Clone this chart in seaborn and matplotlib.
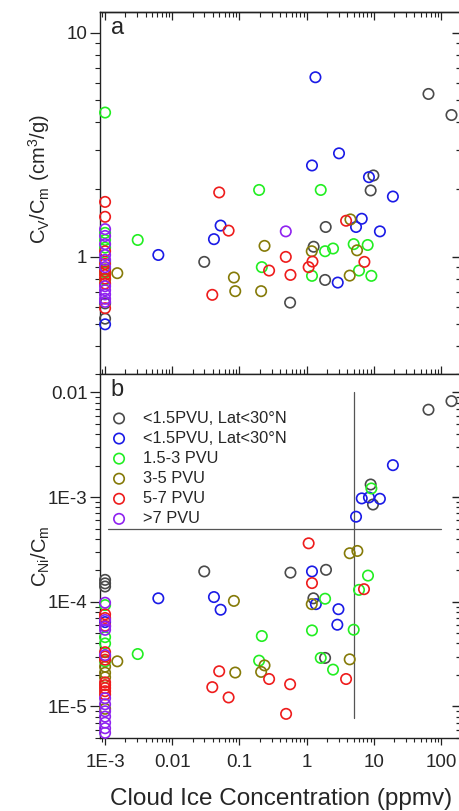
import numpy as np
import matplotlib
matplotlib.use("Agg")
import matplotlib.pyplot as plt
from matplotlib.ticker import LogLocator, NullFormatter, FuncFormatter
import seaborn as sns

sns.set_style("ticks")
plt.rcParams['font.family'] = ['Liberation Sans', 'DejaVu Sans']
plt.rcParams['mathtext.default'] = 'regular'

# ---- data ----
groups = ['<1.5PVU, Lat<30°N', '<1.5PVU, Lat<30°N ', '1.5-3 PVU', '3-5 PVU', '5-7 PVU', '>7 PVU']
colors = ['#4a4a4a', '#1a1ae6', '#22ee22', '#857a08', '#ee1c1c', '#8f22f0']
floor_x = 1e-3  # samples with no ice are put at 1E-3 ppmv

# panel a: Cv/Cm
a_grey_x = [0.0299, 0.567, 1.27, 1.88, 1.92, 8.96, 9.84, 65, 143]
a_grey_y = [0.95, 0.625, 1.11, 0.789, 1.36, 1.98, 2.31, 5.34, 4.3]
a_grey_col = [0.62, 0.53]
a_blue_x = [0.0062, 0.0417, 0.0524, 1.20, 1.35, 2.90, 3.03, 5.43, 6.60, 8.45, 12.3, 19.2]
a_blue_y = [1.02, 1.20, 1.38, 2.56, 6.34, 0.768, 2.90, 1.36, 1.48, 2.27, 1.30, 1.86]
a_blue_col = [0.50]
a_green_x = [0.00306, 0.196, 0.215, 1.20, 1.62, 1.88, 2.47, 5.01, 6.01, 8.09, 9.18]
a_green_y = [1.19, 1.99, 0.90, 0.823, 1.99, 1.06, 1.09, 1.14, 0.869, 1.13, 0.823]
a_green_col = [4.41, 1.28, 1.19, 1.10, 0.95, 0.85, 0.79]
a_olive_x = [0.00152, 0.0826, 0.0865, 0.210, 0.236, 1.19, 4.37, 4.48, 5.62]
a_olive_y = [0.846, 0.809, 0.703, 0.703, 1.12, 1.06, 0.825, 1.47, 1.07]
a_olive_col = [0.88]
a_red_x = [0.0394, 0.0499, 0.0689, 0.276, 0.489, 0.574, 1.07, 1.22, 3.86, 7.23]
a_red_y = [0.677, 1.94, 1.31, 0.869, 1.0, 0.831, 0.90, 0.953, 1.45, 0.95]
a_red_col = [1.76, 1.51, 1.06, 0.93, 0.86, 0.83, 0.80, 0.76, 0.59]
a_purple_x = [0.489]
a_purple_y = [1.30]
a_purple_col = [1.33, 1.24, 1.14, 1.02, 0.97, 0.90, 0.74, 0.71, 0.68, 0.65, 0.63]

# panel b: CNi/Cm
b_grey_x = [0.0299, 0.574, 1.26, 1.94, 1.88, 8.96, 9.7, 65, 143]
b_grey_y = [1.95e-4, 1.9e-4, 1.08e-4, 2.02e-4, 2.91e-5, 1.32e-3, 8.5e-4, 6.84e-3, 8.26e-3]
b_grey_col = [1.62e-4, 1.50e-4, 1.40e-4]
b_blue_x = [0.0062, 0.0417, 0.0524, 1.20, 1.37, 2.97, 2.86, 5.43, 6.60, 8.45, 12.3, 19.2]
b_blue_y = [1.08e-4, 1.11e-4, 8.4e-5, 1.95e-4, 9.5e-5, 8.5e-5, 6.04e-5, 6.5e-4, 9.72e-4, 9.93e-4, 9.64e-4, 2.02e-3]
b_blue_col = [6.4e-5]
b_green_x = [0.00306, 0.196, 0.215, 1.20, 1.62, 1.88, 2.47, 5.01, 6.01, 8.18, 9.18]
b_green_y = [3.17e-5, 2.74e-5, 4.71e-5, 5.33e-5, 2.91e-5, 1.07e-4, 2.25e-5, 5.41e-5, 1.30e-4, 1.78e-4, 1.21e-3]
b_green_col = [9.3e-5, 4.6e-5, 4.0e-5, 2.7e-5]
b_olive_x = [0.00152, 0.0826, 0.0865, 0.210, 0.236, 1.19, 4.37, 4.37, 5.68]
b_olive_y = [2.70e-5, 1.02e-4, 2.11e-5, 2.14e-5, 2.47e-5, 9.5e-5, 2.82e-5, 2.91e-4, 3.06e-4]
b_olive_col = [2.4e-5, 2.1e-5, 1.9e-5, 9.5e-6]
b_red_x = [0.0394, 0.0499, 0.0689, 0.276, 0.494, 0.567, 1.07, 1.20, 3.86, 7.13]
b_red_y = [1.53e-5, 2.17e-5, 1.22e-5, 1.83e-5, 8.5e-6, 1.63e-5, 3.62e-4, 1.51e-4, 1.83e-5, 1.32e-4]
b_red_col = [7.6e-5, 7.0e-5, 5.9e-5, 3.3e-5, 3.0e-5, 2.8e-5, 1.7e-5, 1.6e-5, 1.5e-5, 1.4e-5, 1.3e-5]
b_purple_x = []
b_purple_y = []
b_purple_col = [9.8e-5, 6.7e-5, 5.8e-5, 5.4e-5, 3.1e-5, 1.2e-5, 1.05e-5, 9.0e-6, 8.0e-6, 7.0e-6, 6.2e-6, 5.6e-6]

# threshold lines in panel b
thr_x, thr_x_span = 5.0, (7.7e-6, 0.01)
thr_y, thr_y_span = 5e-4, (1.1e-3, 100)

panel_a = [(a_grey_x, a_grey_y, a_grey_col), (a_blue_x, a_blue_y, a_blue_col),
           (a_green_x, a_green_y, a_green_col), (a_olive_x, a_olive_y, a_olive_col),
           (a_red_x, a_red_y, a_red_col), (a_purple_x, a_purple_y, a_purple_col)]
panel_b = [(b_grey_x, b_grey_y, b_grey_col), (b_blue_x, b_blue_y, b_blue_col),
           (b_green_x, b_green_y, b_green_col), (b_olive_x, b_olive_y, b_olive_col),
           (b_red_x, b_red_y, b_red_col), (b_purple_x, b_purple_y, b_purple_col)]

fig = plt.figure(figsize=(4.59, 8.11), dpi=100)
W, H = 459, 811
# right spine sits just past the image edge, as in the original crop
ax_a = fig.add_axes([100 / W, 1 - 374 / H, 362 / W, 362 / H])
ax_b = fig.add_axes([100 / W, 1 - 738 / H, 362 / W, 364 / H])

TC = '#222222'


def draw(ax, data):
    for (xs, ys, col), name, c in zip(data, groups, colors):
        x = list(xs) + [floor_x] * len(col)
        y = list(ys) + list(col)
        sns.scatterplot(x=x, y=y, ax=ax, marker='o', s=56, facecolors='none',
                        edgecolor=c, linewidth=1.2, label=name, legend=False,
                        clip_on=False, zorder=3)


draw(ax_a, panel_a)
draw(ax_b, panel_b)

ax_b.plot([thr_x, thr_x], thr_x_span, color='#555555', lw=0.9, zorder=2)
ax_b.plot(thr_y_span, [thr_y, thr_y], color='#555555', lw=0.9, zorder=2)


def fmt(v, pos):
    lab = {1e-5: '1E-5', 1e-4: '1E-4', 1e-3: '1E-3', 0.01: '0.01', 0.1: '0.1',
           1: '1', 10: '10', 100: '100'}
    for k, s in lab.items():
        if abs(np.log10(v) - np.log10(k)) < 1e-6:
            return s
    return ''


def log_ticks(axis):
    axis.set_major_locator(LogLocator(base=10, numticks=20))
    axis.set_minor_locator(LogLocator(base=10, subs=np.arange(2, 10), numticks=20))
    axis.set_minor_formatter(NullFormatter())


for ax in (ax_a, ax_b):
    ax.set_xscale('log')
    ax.set_yscale('log')
    ax.set_xlim(8.4e-4, 205)
    log_ticks(ax.xaxis)
    log_ticks(ax.yaxis)
    ax.xaxis.set_major_formatter(FuncFormatter(fmt))
    ax.yaxis.set_major_formatter(FuncFormatter(fmt))
    for sp in ax.spines.values():
        sp.set_linewidth(1.0)
        sp.set_color(TC)
    ax.tick_params(axis='y', which='major', left=True, right=False, direction='out',
                   length=7, width=0.9, labelsize=13.5, pad=2, color=TC)
    ax.tick_params(axis='y', which='minor', left=True, right=False, direction='out',
                   length=3.5, width=0.8, color=TC)

ax_a.set_ylim(0.3, 12.4)
ax_b.set_ylim(5e-6, 0.015)

# right-side ticks point inward
for ax in (ax_a, ax_b):
    sec = ax.secondary_yaxis('right')
    log_ticks(sec.yaxis)
    sec.yaxis.set_major_formatter(NullFormatter())
    sec.spines['right'].set_linewidth(1.0)
    sec.tick_params(which='major', direction='in', length=7, width=1.0, color=TC)
    sec.tick_params(which='minor', direction='in', length=4, width=0.9, color=TC)

# top of panel a: ticks pointing in
top = ax_a.secondary_xaxis('top')
log_ticks(top.xaxis)
top.xaxis.set_major_formatter(NullFormatter())
top.spines['top'].set_linewidth(1.0)
top.tick_params(which='major', direction='in', length=6, width=0.9, color=TC)
top.tick_params(which='minor', direction='in', length=3.5, width=0.8, color=TC)

# shared boundary: ticks crossing
ax_a.tick_params(axis='x', which='major', top=False, bottom=True, direction='inout',
                 length=12, width=0.9, labelbottom=False, color=TC)
ax_a.tick_params(axis='x', which='minor', top=False, bottom=True, direction='inout',
                 length=7, width=0.8, color=TC)
ax_b.tick_params(axis='x', which='major', top=False, bottom=True, direction='out',
                 length=5, width=0.9, labelsize=13.5, pad=6.5, color=TC)
ax_b.tick_params(axis='x', which='minor', top=False, bottom=True, direction='out',
                 length=3, width=0.8, color=TC)

ax_a.set_ylabel(r'$C_V/C_m\ (cm^3/g)$', fontsize=14.5)
ax_a.yaxis.set_label_coords(-0.133, 0.54)
ax_b.set_ylabel(r'$C_{Ni}/C_m$', fontsize=14.5)
ax_b.yaxis.set_label_coords(-0.133, 0.50)
ax_b.set_xlabel('Cloud Ice Concentration (ppmv)', fontsize=17.5, labelpad=12)

ax_a.text(0.03, 0.985, 'a', transform=ax_a.transAxes, fontsize=17, va='top', ha='left')
ax_b.text(0.03, 0.985, 'b', transform=ax_b.transAxes, fontsize=17, va='top', ha='left')

ax_b.legend(loc='upper left', bbox_to_anchor=(0.03, 0.899), frameon=False,
            fontsize=11.8, borderpad=0, handlelength=1.0, handletextpad=0.95,
            labelspacing=0.31, borderaxespad=0)

fig.savefig('out.png', dpi=100, facecolor='white')
